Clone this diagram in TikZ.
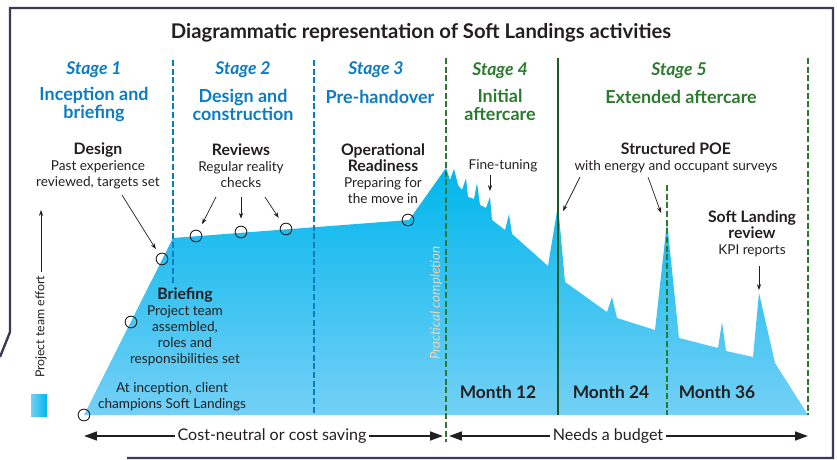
\documentclass[tikz,border=0pt]{standalone}
\usepackage{fontspec}
\setmainfont{Lato}
\usepackage{tikz}
\usetikzlibrary{arrows.meta,calc,positioning}

\definecolor{ink}{HTML}{231F20}
\definecolor{framec}{HTML}{3B3B58}
\definecolor{stageblue}{HTML}{0B7CC3}
\definecolor{stagegreen}{HTML}{2B7A2E}
\definecolor{darkgreen}{HTML}{1D5A20}
\definecolor{effortTop}{HTML}{00B6EC}
\definecolor{effortBot}{HTML}{74D0F6}
\definecolor{peach}{HTML}{F3D3B2}

\newcommand{\hd}[1]{{\fontsize{13.5}{13.6}\selectfont\bfseries #1}}

\tikzset{
  txt/.style={text=ink, align=center, font=\fontsize{11.6}{13.6}\selectfont, inner sep=1pt},
  stagelbl/.style={font=\fontsize{15}{15}\selectfont\bfseries\itshape, inner sep=1pt},
  stagettl/.style={font=\fontsize{15.3}{15.5}\selectfont\bfseries, align=center, inner sep=1pt},
  monthlbl/.style={text=ink, font=\fontsize{14.8}{15}\selectfont\bfseries},
  ring/.style={circle, draw=ink, line width=0.8pt, inner sep=0pt, minimum size=10pt},
  ptr/.style={-{Stealth[length=5pt,width=3.6pt]}, draw=ink, line width=0.6pt},
  bigarr/.style={-{Triangle[length=11pt,width=7.5pt]}, draw=ink, line width=1.7pt},
  bluediv/.style={draw=stageblue, line width=0.9pt, dash pattern=on 5pt off 2.4pt},
  greendiv/.style={draw=stagegreen, line width=0.9pt, dash pattern=on 5pt off 2.4pt},
}

\begin{document}
\begin{tikzpicture}[x=0.03cm,y=-0.03cm]
\useasboundingbox (0,0) rectangle (837,460);

\draw[framec, line width=2pt] (0,357) -- (10,332) -- (10,8) -- (833,8) -- (833,458) -- (127,458);

\shade[top color=effortTop, bottom color=effortBot]
  (84,415) -- (173,238) -- (409,220) -- (446,168) -- (450,180) -- (454,169)
  -- (458,185) -- (462,190) -- (466,178) -- (468,197) -- (474,199) -- (477,183)
  -- (480,205) -- (486,208) -- (490,197) -- (492,220) -- (505,230) -- (509,214)
  -- (512,234) -- (548,266) -- (558,205) -- (565,282) -- (607,312) -- (612,297)
  -- (617,318) -- (655,330) -- (667,222) -- (679,338) -- (718,348) -- (722,322)
  -- (726,351) -- (753,357) -- (759,293) -- (775,363) -- (808,415) -- cycle;

\draw[bluediv] (173,60) -- (173,283);
\draw[bluediv] (314,60) -- (314,415);
\draw[greendiv] (446,58) -- (446,442);
\draw[darkgreen, line width=1pt] (558,58) -- (558,415);
\draw[greendiv] (667,185) -- (667,415);
\draw[greendiv] (808,58) -- (808,415);

\node[text=ink, font=\fontsize{17.3}{18}\selectfont\bfseries] (title) at (421,33) {Diagrammatic representation of Soft Landings activities};

\node[stagelbl, text=stageblue] (st1) at (94,70) {Stage 1};
\node[stagelbl, text=stageblue] (st2) at (243,70) {Stage 2};
\node[stagelbl, text=stageblue] (st3) at (376,70) {Stage 3};
\node[stagelbl, text=stagegreen] (st4) at (500,71) {Stage 4};
\node[stagelbl, text=stagegreen] (st5) at (679,71) {Stage 5};
\node[stagettl, text=stageblue] (inception) at (94,104.5) {Inception and\\briefing};
\node[stagettl, text=stageblue] (designcon) at (243,104.5) {Design and\\construction};
\node[stagettl, text=stageblue] (prehand) at (380,97) {Pre-handover};
\node[stagettl, text=stagegreen] (initial) at (500,104.5) {Initial\\aftercare};
\node[stagettl, text=stagegreen] (extended) at (681,97) {Extended aftercare};

\node[ring] (c1) at (84,415) {};
\node[ring] (c2) at (131,322) {};
\node[ring] (c3) at (162,259) {};
\node[ring] (c4) at (196,236) {};
\node[ring] (c5) at (241,232) {};
\node[ring] (c6) at (286,229) {};
\node[ring] (c7) at (408,220) {};

\node[txt] (design) at (98,166) {\hd{Design}\\Past experience\\reviewed, targets set};
\node[txt] (reviews) at (241,166) {\hd{Reviews}\\Regular reality\\checks};
\node[txt] (ready) at (383,174) {\hd{Operational}\\\hd{Readiness}\\Preparing for\\the move in};
\node[txt] (tuning) at (503,166) {Fine-tuning};
\node[txt] (poe) at (676,158) {\hd{Structured POE}\\with energy and occupant surveys};
\node[txt] (slr) at (752,234) {\hd{Soft Landing}\\\hd{review}\\KPI reports};
\node[txt] (briefing) at (185,327) {\hd{Briefing}\\Project team\\assembled,\\roles and\\responsibilities set};
\node[txt] (champ) at (172,397) {At inception, client\\champions Soft Landings};

\coordinate (d1) at (122,195);
\coordinate (r1) at (216,197);
\coordinate (r2) at (241,197);
\coordinate (r3) at (265,197);
\coordinate (f1) at (490,175);
\coordinate (f2) at (490,191);
\coordinate (p1) at (580,177);
\coordinate (p2) at (563,211);
\coordinate (p3) at (648,177);
\coordinate (p4) at (661,213);
\coordinate (k1) at (759,266);
\coordinate (k2) at (759,290);
\draw[ptr, shorten >=4.5pt] (d1) -- (c3);
\draw[ptr, shorten >=6pt] (r1) -- (c4);
\draw[ptr, shorten >=6pt] (r2) -- (c5);
\draw[ptr, shorten >=6pt] (r3) -- (c6);
\draw[ptr] (f1) -- (f2);
\draw[ptr] (p1) -- (p2);
\draw[ptr] (p3) -- (p4);
\draw[ptr] (k1) -- (k2);

\node[text=peach, rotate=90, font=\fontsize{11.5}{12}\selectfont\itshape] (prac) at (436,303) {Practical completion};

\node[monthlbl] (m12) at (498,392) {Month 12};
\node[monthlbl] (m24) at (611,392) {Month 24};
\node[monthlbl] (m36) at (717,392) {Month 36};

\shade[left color=effortBot, right color=effortTop] (31,395) rectangle (47,416);
\node[text=ink, rotate=90, font=\fontsize{10.5}{12}\selectfont] (effort) at (41,327) {Project team effort};
\coordinate (efftop) at (41,210);
\draw[ptr, line width=0.7pt] (effort.east) -- (efftop);

\node[text=ink, font=\fontsize{13.7}{15}\selectfont, inner sep=2pt] (costtxt) at (272,436) {Cost-neutral or cost saving};
\coordinate (cl) at (84,436);
\coordinate (cr) at (443,436);
\draw[bigarr] (costtxt.west) -- (cl);
\draw[bigarr] (costtxt.east) -- (cr);
\node[text=ink, font=\fontsize{13.7}{15}\selectfont, inner sep=2pt] (budget) at (608,436) {Needs a budget};
\coordinate (bl) at (449,436);
\coordinate (br) at (808,436);
\draw[bigarr] (budget.west) -- (bl);
\draw[bigarr] (budget.east) -- (br);
\end{tikzpicture}
\end{document}
